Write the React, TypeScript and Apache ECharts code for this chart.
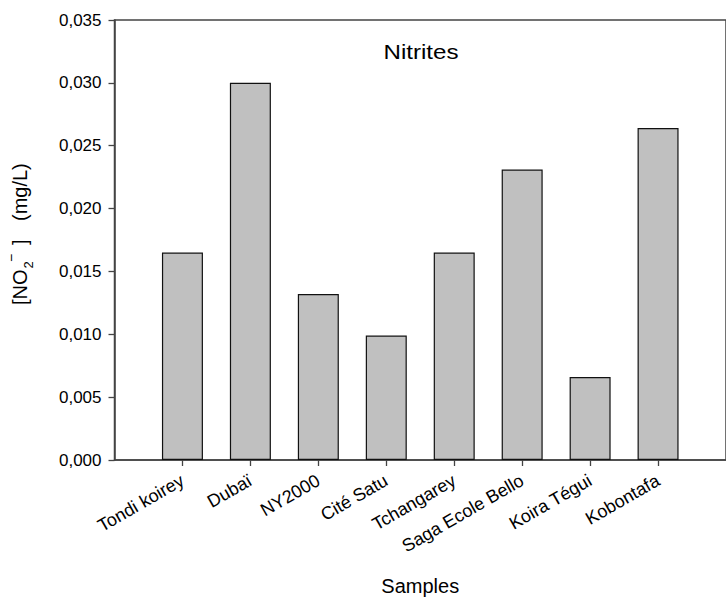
import React, { useEffect, useRef } from "react";
import * as echarts from "echarts";

const categories = ["Tondi koirey", "Dubaï", "NY2000", "Cité Satu", "Tchangarey", "Saga Ecole Bello", "Koira Tégui", "Kobontafa"];
const values = [0.0165, 0.03, 0.0132, 0.0099, 0.0165, 0.0231, 0.0066, 0.0264];
const categoryPositions = [1, 2, 3, 4, 5, 6, 7, 8];
const chartTitle = "Nitrites";
const xTitle = "Samples";

const FONT = '"Liberation Sans", Arial, sans-serif';
const AXIS_COLOR = "#444";

export default function App() {
  const ref = useRef<HTMLDivElement>(null);
  useEffect(() => {
    document.body.style.margin = "0";
    const chart = echarts.init(ref.current!, null, { renderer: "svg" });
    chart.setOption({
      animation: false,
      backgroundColor: "#fff",
      grid: {
        left: 114.5,
        top: 20,
        right: -7.7,
        bottom: 137,
        show: true,
        borderColor: AXIS_COLOR,
        borderWidth: 1.5,
        backgroundColor: "transparent",
      },
      xAxis: {
        type: "value",
        min: 0,
        max: 9,
        interval: 1,
        name: xTitle,
        nameLocation: "middle",
        nameGap: 116,
        nameTextStyle: { fontFamily: FONT, fontSize: 20, color: "#000" },
        axisLine: { show: true, lineStyle: { color: AXIS_COLOR, width: 1.5 } },
        axisTick: { show: true, length: 6, customValues: categoryPositions, lineStyle: { color: AXIS_COLOR, width: 1.3 } },
        axisLabel: {
          customValues: categoryPositions,
          rotate: 30,
          margin: 19,
          fontFamily: FONT,
          fontSize: 18,
          color: "#000",
          formatter: (v: number) => categories[Math.round(v) - 1] ?? "",
        },
        splitLine: { show: false },
      },
      yAxis: {
        type: "value",
        min: 0,
        max: 0.035,
        interval: 0.005,
        axisLine: { show: true, lineStyle: { color: AXIS_COLOR, width: 1.5 } },
        axisTick: { show: true, length: 6, lineStyle: { color: AXIS_COLOR, width: 1.3 } },
        axisLabel: {
          margin: 13,
          fontFamily: FONT,
          fontSize: 17,
          color: "#000",
          formatter: (v: number) => v.toFixed(3).replace(".", ","),
        },
        splitLine: { show: false },
      },
      series: [
        {
          type: "bar",
          barWidth: 41,
          data: categoryPositions.map((p, i) => [p, values[i]]),
          itemStyle: { color: "#c0c0c0", borderColor: "#111", borderWidth: 1.2 },
        },
      ],
      graphic: [
        {
          type: "text",
          x: 421,
          y: 52,
          scaleX: 1.15,
          style: { text: chartTitle, fontFamily: FONT, fontSize: 21, fill: "#000", align: "center", verticalAlign: "middle" },
        },
        {
          type: "group",
          x: 20,
          y: 305,
          rotation: Math.PI / 2,
          children: [
            { type: "text", x: 0, y: 0, style: { text: "[NO", fontFamily: FONT, fontSize: 20, fill: "#000", align: "left", verticalAlign: "middle" } },
            { type: "text", x: 36.5, y: 8, style: { text: "2", fontFamily: FONT, fontSize: 13, fill: "#000", align: "left", verticalAlign: "middle" } },
            { type: "text", x: 43, y: -9, style: { text: "−", fontFamily: FONT, fontSize: 14, fill: "#000", align: "left", verticalAlign: "middle" } },
            { type: "text", x: 60, y: 0, style: { text: "]", fontFamily: FONT, fontSize: 20, fill: "#000", align: "left", verticalAlign: "middle" } },
            { type: "text", x: 84, y: 0, style: { text: "(mg/L)", fontFamily: FONT, fontSize: 20, fill: "#000", align: "left", verticalAlign: "middle" } },
          ],
        },
      ],
    });
    return () => chart.dispose();
  }, []);
  return <div ref={ref} style={{ width: 726, height: 601 }} />;
}
